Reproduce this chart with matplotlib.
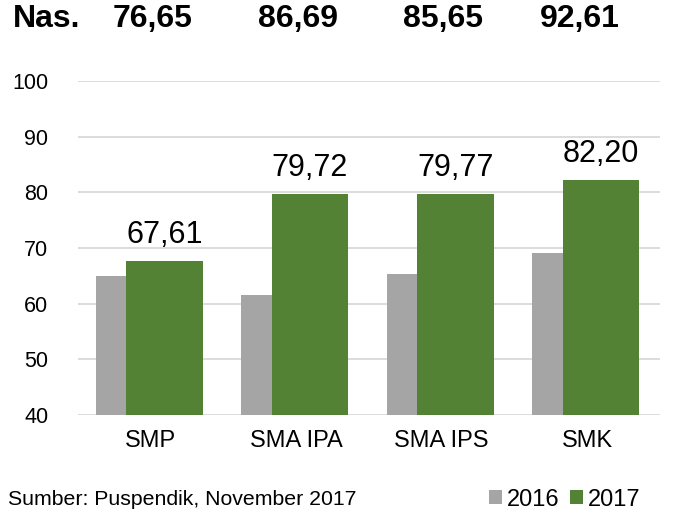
import matplotlib.pyplot as plt
import numpy as np

plt.rcParams['font.family'] = ['Liberation Sans', 'DejaVu Sans']

kategori = ['SMP', 'SMA IPA', 'SMA IPS', 'SMK']
nilai_2016 = [65.0, 61.6, 65.3, 69.1]
nilai_2017 = [67.61, 79.72, 79.77, 82.20]
label_2017 = ['67,61', '79,72', '79,77', '82,20']
nas_label = ['76,65', '86,69', '85,65', '92,61']

abu = '#A5A5A5'
hijau = '#548235'
W, H = 674, 509

fig = plt.figure(figsize=(6.74, 5.09), dpi=100)
ax = fig.add_axes([78 / W, 1 - 415 / H, 582 / W, 334 / H])

x = np.arange(len(kategori))
ax.bar(x - 0.378, nilai_2016, width=0.3, align='edge', color=abu, zorder=2, label='2016')
ax.bar(x - 0.170, nilai_2017, width=0.527, align='edge', color=hijau, zorder=3, label='2017')

# label nilai 2017 di atas batang
for xi, v, s in zip(x, nilai_2017, label_2017):
    ax.text(xi - 0.170 + 0.527 / 2, v + 3.2, s, ha='center', va='baseline', fontsize=22, color='black')

ax.set_xlim(-0.5, 3.5)
ax.set_ylim(40, 100)
ax.set_yticks(range(40, 101, 10))
ax.set_xticks(x)
ax.set_xticklabels(kategori)
ax.tick_params(axis='y', length=0, pad=21.5, labelsize=15.5)
ax.tick_params(axis='x', length=0, pad=11, labelsize=17)
ax.grid(axis='y', color='#D9D9D9', linewidth=1.3, zorder=0)
for sp in ax.spines.values():
    sp.set_visible(False)

# baris nasional
fig.text(13 / W, 1 - 27 / H, 'Nas.', ha='left', va='baseline', fontsize=23, fontweight='bold')
for px, s in zip([153, 298, 443, 580], nas_label):
    fig.text(px / W, 1 - 27 / H, s, ha='center', va='baseline', fontsize=23, fontweight='bold')

fig.text(8 / W, 1 - 505 / H, 'Sumber: Puspendik, November 2017', ha='left', va='baseline',
         fontsize=15.3)

fig.legend(loc='center right', bbox_to_anchor=(640 / W, 1 - 499.5 / H), ncol=2, frameon=False,
           fontsize=17, handlelength=0.55, handleheight=0.55, handletextpad=0.2,
           columnspacing=0.45, borderaxespad=0, borderpad=0)

fig.savefig('out.png', dpi=100)
